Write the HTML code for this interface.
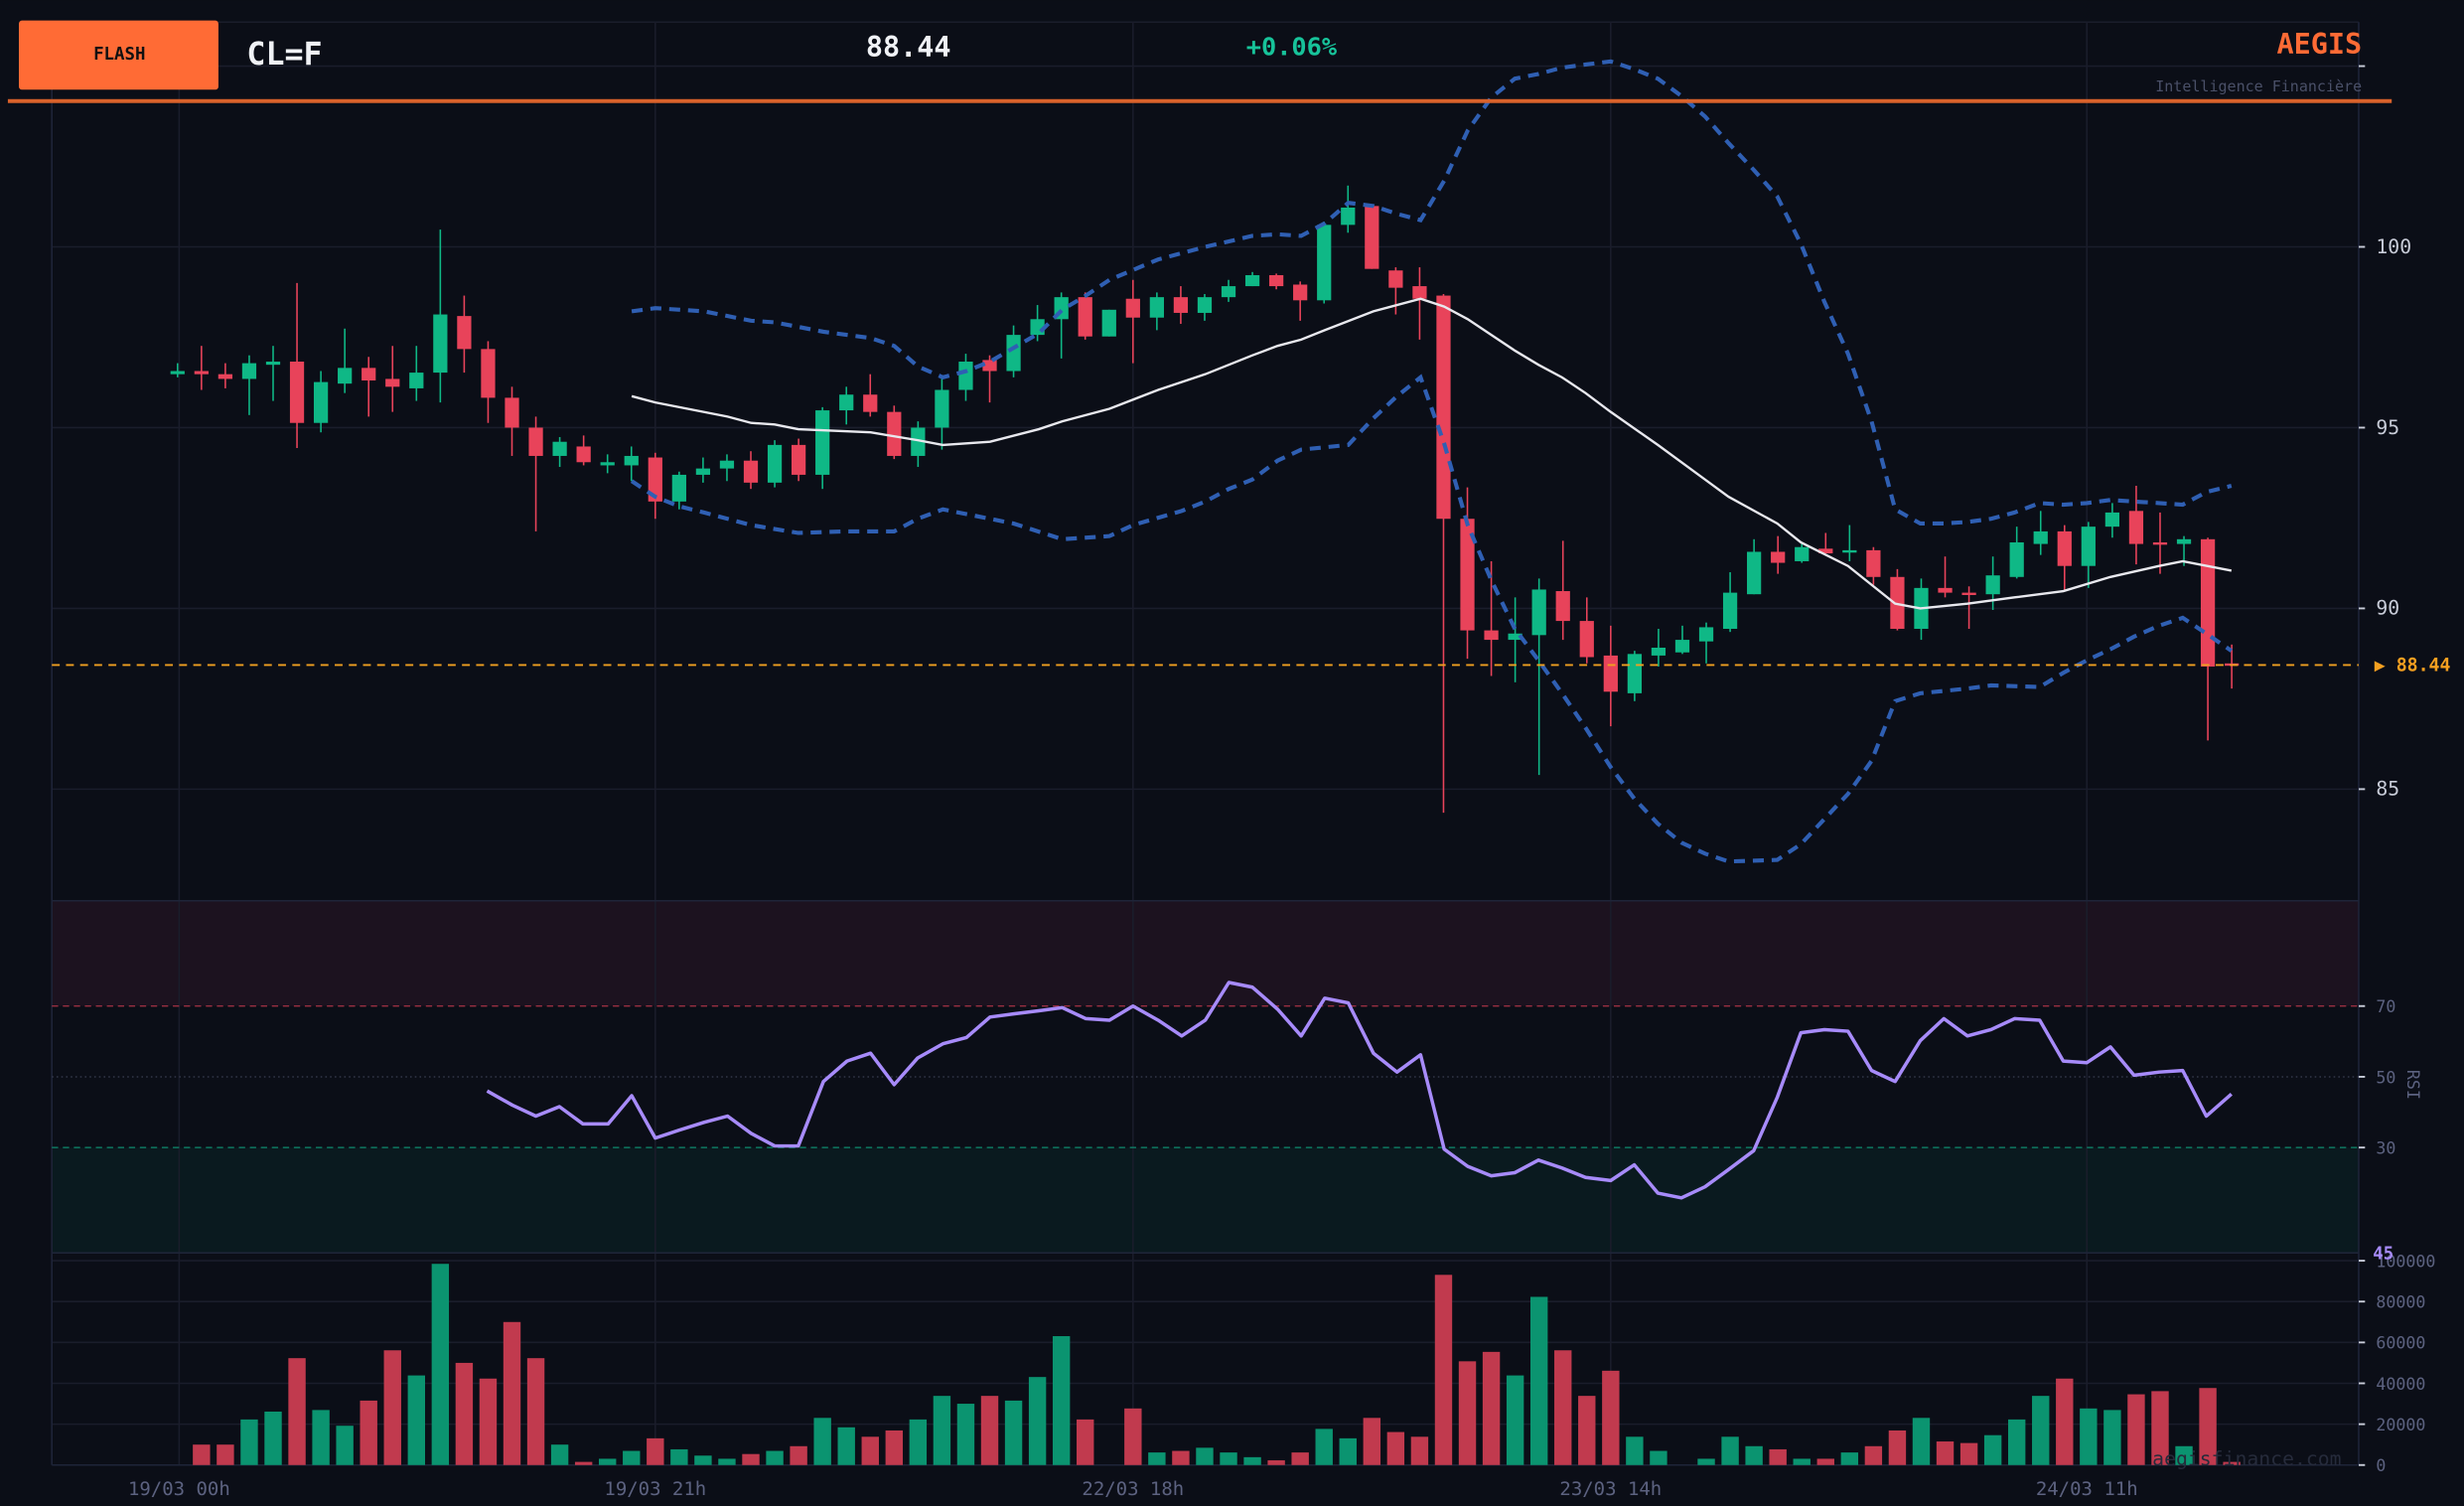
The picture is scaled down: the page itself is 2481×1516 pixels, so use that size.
<!DOCTYPE html>
<html><head><meta charset="utf-8">
<style>
html,body{margin:0;padding:0;background:#0b0e17;}
svg{display:block;}
text{font-family:"DejaVu Sans Mono","Liberation Mono",monospace;}
</style></head>
<body>
<svg id="s" width="2481" height="1516" viewBox="0 0 1568 958" xmlns="http://www.w3.org/2000/svg">
<rect width="1568" height="958" fill="#0b0e17"/>
<!-- RSI zones -->
<rect x="33" y="573" width="1468" height="67" fill="#1c121f"/>
<rect x="33" y="730" width="1468" height="67" fill="#0a1a1f"/>
<g stroke="#1a1d2b" stroke-width="1">
<line x1="33" y1="14" x2="1501" y2="14"/>
<line x1="33" y1="42" x2="1501" y2="42"/>
<line x1="33" y1="157" x2="1501" y2="157"/>
<line x1="33" y1="272" x2="1501" y2="272"/>
<line x1="33" y1="387" x2="1501" y2="387"/>
<line x1="33" y1="502" x2="1501" y2="502"/>
<line x1="33" y1="802" x2="1501" y2="802"/>
<line x1="33" y1="828" x2="1501" y2="828"/>
<line x1="33" y1="854" x2="1501" y2="854"/>
<line x1="33" y1="880" x2="1501" y2="880"/>
<line x1="33" y1="906" x2="1501" y2="906"/>
<line x1="114" y1="14" x2="114" y2="932"/>
<line x1="417" y1="14" x2="417" y2="932"/>
<line x1="721" y1="14" x2="721" y2="932"/>
<line x1="1025" y1="14" x2="1025" y2="932"/>
<line x1="1328" y1="14" x2="1328" y2="932"/>
</g>
<g stroke="#1e2438" stroke-width="1" fill="none">
<line x1="33" y1="14" x2="33" y2="932"/>
<line x1="1501" y1="14" x2="1501" y2="932"/>
<line x1="33" y1="573" x2="1501" y2="573"/>
<line x1="33" y1="797" x2="1501" y2="797"/>
<line x1="33" y1="932" x2="1501" y2="932"/>
</g>
<line x1="33" y1="640" x2="1501" y2="640" stroke="#a83245" stroke-dasharray="4,3" stroke-width="0.8"/>
<line x1="33" y1="685" x2="1501" y2="685" stroke="#3a3f52" stroke-dasharray="1,2" stroke-width="0.8"/>
<line x1="33" y1="730" x2="1501" y2="730" stroke="#0f8a6e" stroke-dasharray="4,3" stroke-width="0.8"/>
<g id="vol"></g>
<g id="cdl"></g>
<polyline fill="none" stroke="#2f5fb3" stroke-width="2.6" stroke-dasharray="7,5" points="402,198 417,196 448,198 478,204 493,205 524,211 554,215 569,220 584,233 600,240 615,236 630,230 661,212 676,197 691,188 706,178 737,165 767,157 797,150 813,149 828,150 843,142 858,129 874,131 889,136 904,140 919,115 934,83 949,62 964,50 979,47 994,43 1009,41 1025,39 1040,44 1055,50 1070,61 1085,74 1100,91 1116,108 1131,125 1146,155 1161,192 1176,225 1191,268 1206,324 1222,333 1237,333 1252,332 1267,330 1282,326 1298,320 1313,321 1328,320 1343,318 1358,319 1374,320 1389,321 1404,313 1420,309"/>
<polyline fill="none" stroke="#2f5fb3" stroke-width="2.6" stroke-dasharray="7,5" points="402,306 417,316 432,322 448,326 478,334 508,339 539,338 569,338 584,330 600,324 615,327 645,333 676,343 706,341 721,334 752,325 767,319 782,311 797,305 813,293 828,286 858,283 874,266 889,252 904,240 919,282 934,334 949,369 964,400 979,420 994,441 1009,463 1025,488 1040,508 1055,524 1070,536 1085,543 1100,548 1131,547 1146,537 1161,521 1176,505 1191,484 1206,446 1222,441 1252,438 1267,436 1298,437 1313,428 1328,420 1343,413 1358,405 1374,398 1389,393 1404,403 1420,414"/>
<polyline fill="none" stroke="#e8e8ee" stroke-width="1.5" points="402,252 417,256 463,265 478,269 493,270 508,273 554,275 584,280 600,283 630,281 661,273 676,268 706,260 737,248 767,238 797,226 813,220 828,216 843,210 874,198 904,190 919,195 934,203 949,213 964,223 979,232 994,240 1009,250 1025,262 1055,283 1085,305 1100,316 1131,333 1146,345 1176,360 1206,384 1222,387 1252,384 1282,380 1313,376 1343,367 1374,360 1389,357 1420,363"/>
<line x1="33" y1="423" x2="1501" y2="423" stroke="#f0a020" stroke-width="1.2" stroke-dasharray="5,4"/>
<polyline fill="none" stroke="#a78bfa" stroke-width="2.2" stroke-linejoin="round" points="310,694 326,703 341,710 356,704 371,715 387,715 402,697 417,724 432,719 448,714 463,710 478,721 493,729 508,729 524,688 539,675 554,670 569,690 584,673 600,664 615,660 630,647 645,645 661,643 676,641 691,648 706,649 721,640 737,649 752,659 767,649 782,625 797,628 813,642 828,659 843,635 858,638 874,670 889,682 904,671 919,731 934,742 949,748 964,746 979,738 994,743 1009,749 1025,751 1040,741 1055,759 1070,762 1085,755 1100,744 1116,732 1131,698 1146,657 1161,655 1176,656 1191,681 1206,688 1222,662 1237,648 1252,659 1267,655 1282,648 1298,649 1313,675 1328,676 1343,666 1358,684 1374,682 1389,681 1404,710 1420,696"/>
<!-- right axis -->
<g stroke="#c8ccd8" stroke-width="1.2">
<line x1="1501" y1="42" x2="1505" y2="42"/><line x1="1501" y1="157" x2="1505" y2="157"/><line x1="1501" y1="272" x2="1505" y2="272"/><line x1="1501" y1="387" x2="1505" y2="387"/><line x1="1501" y1="502" x2="1505" y2="502"/>
<line x1="1501" y1="640" x2="1505" y2="640"/><line x1="1501" y1="685" x2="1505" y2="685"/><line x1="1501" y1="730" x2="1505" y2="730"/>
<line x1="1501" y1="802" x2="1505" y2="802"/><line x1="1501" y1="828" x2="1505" y2="828"/><line x1="1501" y1="854" x2="1505" y2="854"/><line x1="1501" y1="880" x2="1505" y2="880"/><line x1="1501" y1="906" x2="1505" y2="906"/><line x1="1501" y1="932" x2="1505" y2="932"/>
</g>
<g fill="#c8ccd8" font-size="12.5">
<text x="1512" y="161">100</text><text x="1512" y="276">95</text><text x="1512" y="391">90</text><text x="1512" y="506">85</text>
</g>
<text x="1511" y="427" fill="#f5a020" font-size="11.5" font-weight="bold">▶ 88.44</text>
<g fill="#5c6280" font-size="10.5">
<text x="1512" y="644">70</text><text x="1512" y="689">50</text><text x="1512" y="734">30</text>
<text x="1512" y="806">100000</text><text x="1512" y="832">80000</text><text x="1512" y="858">60000</text><text x="1512" y="884">40000</text><text x="1512" y="910">20000</text><text x="1512" y="936">0</text>
</g>
<text x="1536" y="686" fill="#5c6280" font-size="10.5" text-anchor="middle" transform="rotate(90 1532 686)">RSI</text>
<text x="1510" y="801" fill="#a78bfa" font-size="11" font-weight="bold">45</text>
<text x="1490" y="932" fill="#262b3b" font-size="12.5" text-anchor="end">aegisfinance.com</text>
<g fill="#5c6280" font-size="12" text-anchor="middle">
<text x="114" y="951">19/03 00h</text><text x="417" y="951">19/03 21h</text><text x="721" y="951">22/03 18h</text><text x="1025" y="951">23/03 14h</text><text x="1328" y="951">24/03 11h</text>
</g>
<!-- header -->
<rect x="12" y="13" width="127" height="44" rx="2" fill="#ff6b35"/>
<text x="76" y="38" fill="#111" font-size="11" font-weight="bold" text-anchor="middle">FLASH</text>
<text x="157" y="41" fill="#f0f2f6" font-size="20" font-weight="bold">CL=F</text>
<text x="551" y="36" fill="#f0f2f6" font-size="18" font-weight="bold">88.44</text>
<text x="793" y="35" fill="#17c39a" font-size="16" font-weight="bold">+0.06%</text>
<text x="1503" y="34" fill="#ff6b35" font-size="18" font-weight="bold" text-anchor="end">AEGIS</text>
<text x="1503" y="58" fill="#4a5068" font-size="9.5" text-anchor="end">Intelligence Financière</text>
<rect x="5" y="63" width="1517" height="2.5" fill="#d9622b"/>
</svg>
<script>
var C=[[236,238,231,240,1],[236,238,220,248,0],[238,241,231,247,0],[231,241,226,264,1],[230,232,220,255,1],[230,269,180,285,0],[243,269,236,275,1],[234,244,209,250,1],[234,242,227,265,0],[241,246,220,262,0],[237,247,220,255,1],[200,237,146,256,1],[201,222,188,237,0],[222,253,217,269,0],[253,272,246,290,0],[272,290,265,338,0],[281,290,278,297,1],[284,294,277,296,0],[294,296,289,301,1],[290,296,284,306,1],[291,319,288,330,0],[302,319,300,324,1],[298,302,291,307,1],[293,298,289,306,1],[293,307,287,311,0],[283,307,280,310,1],[283,302,279,306,0],[261,302,259,311,1],[251,261,246,270,1],[251,262,238,265,0],[262,290,258,292,0],[272,290,268,297,1],[248,272,240,286,1],[230,248,225,255,1],[229,236,226,256,0],[213,236,207,240,1],[203,213,194,217,1],[189,203,186,228,1],[189,214,186,216,0],[197,214,197,214,1],[190,202,178,231,0],[189,202,186,210,1],[189,199,182,206,0],[189,199,187,204,1],[182,189,178,192,1],[175,182,173,182,1],[175,182,174,184,0],[181,191,179,204,0],[143,191,141,193,1],[132,143,118,148,1],[131,171,131,171,0],[172,183,170,200,0],[182,190,170,216,0],[188,330,187,517,0],[330,401,310,419,0],[401,407,357,430,0],[403,407,380,434,1],[375,404,368,493,1],[376,395,344,407,0],[395,418,380,422,0],[417,440,398,462,0],[416,441,414,446,1],[412,417,400,424,1],[407,415,398,416,1],[399,408,396,422,1],[377,400,364,402,1],[351,378,343,378,1],[351,358,341,365,0],[348,357,346,358,1],[349,352,339,352,0],[350,351,334,357,1],[350,367,348,372,0],[367,400,362,401,0],[374,400,368,407,1],[374,377,354,380,0],[377,378,373,400,0],[366,378,354,388,1],[345,367,335,368,1],[338,346,325,353,1],[338,360,334,375,0],[335,360,332,374,1],[326,335,320,342,1],[325,346,309,359,0],[345,346,326,365,0],[343,346,341,360,1],[343,424,342,471,0],[422,423,410,438,0]];
var V=[932,919,919,903,898,864,897,907,891,859,875,804,867,877,841,864,919,930,928,923,915,922,926,928,925,923,920,902,908,914,910,903,888,893,888,891,876,850,903,932,896,924,923,921,924,927,929,924,909,915,902,911,914,811,866,860,875,825,859,888,872,914,923,932,928,914,920,922,928,928,924,920,910,902,917,918,913,903,888,877,896,897,887,885,920,883,930];
var NS="http://www.w3.org/2000/svg",cg=document.getElementById("cdl"),vg=document.getElementById("vol");
function el(g,t,a){var e=document.createElementNS(NS,t);for(var k in a)e.setAttribute(k,a[k]);g.appendChild(e);}
for(var i=0;i<C.length;i++){var x=113+i*15.2,c=C[i],col=c[4]?"#0fb886":"#e8435a";
el(cg,"line",{x1:x,x2:x,y1:c[2],y2:c[3],stroke:col,"stroke-width":1});
el(cg,"rect",{x:x-4.5,y:c[0],width:9,height:Math.max(1.5,c[1]-c[0]),fill:col});
var h=932-V[i];if(h>0)el(vg,"rect",{x:x-5.5,y:V[i],width:11,height:h,fill:c[4]?"#0b9470":"#c13a4e"});}
</script>
</body></html>
